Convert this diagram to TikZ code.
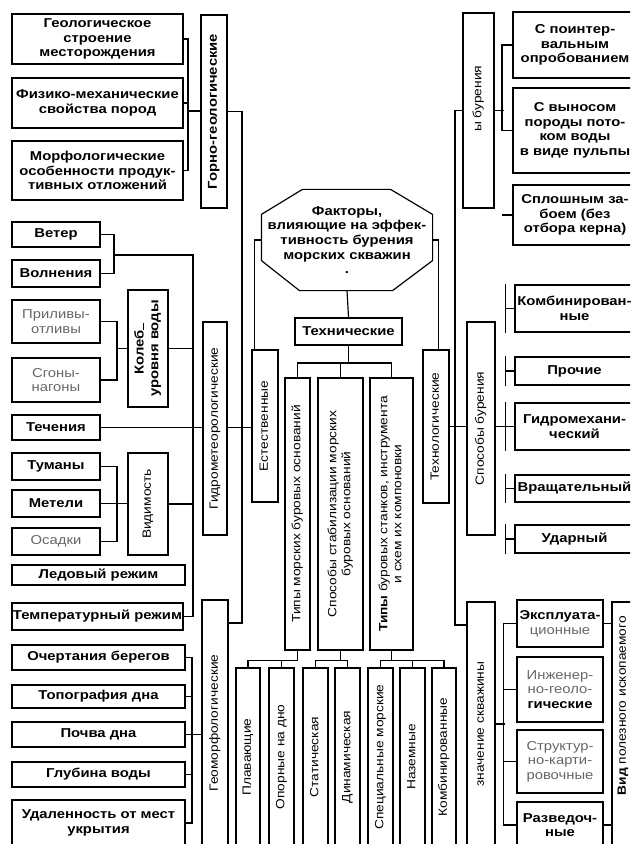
\documentclass[tikz,border=0pt]{standalone}
\usepackage{graphicx}
\usepackage{fontspec}
\setmainfont{Liberation Sans}[FakeStretch=1.15]

\newcommand\fs{\fontsize{11}{12.5}\selectfont}
\newcommand\fv{\fontsize{10.2}{12}\selectfont}
\newcommand\up[1]{\rotatebox{90}{\begin{tabular}{@{}c@{}}#1\end{tabular}}}
% box from (x1,y1) to (x2,y2), pixel units of the picture
\newcommand\blk[7]{\node[#2, minimum width={(#5-#3)*0.03cm}, minimum height={(#6-#4)*0.03cm}] (#1) at ({(#3+#5)/2},{(#4+#6)/2}) {#7};}

\begin{document}
\begin{tikzpicture}[x=0.03cm, y=-0.03cm, line width=1pt,
	core/.style={inner sep=0pt, align=center, font=\fs\bfseries},
	box/.style={core, draw},
	heavy/.style={box, line width=1.8pt},
	lite/.style={box, font=\fs, text=black!60},
	side/.style={box, font=\fv}]
	\useasboundingbox (0,0) rectangle (630,844);
	\clip (0,0) rectangle (630,844);

	% left: mining-geological
	\blk{geo}{heavy}{12}{14}{183}{64}{Геологическое\\строение\\месторождения}
	\blk{fiz}{heavy}{12}{78}{183}{128}{Физико-механические\\свойства пород}
	\blk{mor}{heavy}{12}{141}{183}{200}{Морфологические\\особенности продук-\\тивных отложений}
	\blk{gorn}{box}{201}{15}{227}{208}{\up{Горно-геологические}}

	% left: hydrometeorological
	\blk{vet}{box}{12}{222}{100}{247}{Ветер}
	\blk{vol}{box}{12}{260}{100}{287}{Волнения}
	\blk{pri}{lite}{12}{300}{100}{343}{Приливы-\\отливы}
	\blk{sgo}{lite}{12}{358}{100}{402}{Сгоны-\\нагоны}
	\blk{kol}{heavy}{128}{290}{168}{407}{\up{Колеб\rule{6pt}{0.4pt}\\уровня воды}}
	\blk{tec}{box}{12}{415}{100}{440}{Течения}
	\blk{tum}{box}{12}{453}{100}{480}{Туманы}
	\blk{met}{box}{12}{490}{100}{517}{Метели}
	\blk{osa}{lite}{12}{528}{100}{555}{Осадки}
	\blk{vdm}{side}{128}{453}{168}{555}{\up{Видимость}}
	\blk{led}{box}{12}{565}{185}{585}{Ледовый режим}
	\blk{tmp}{heavy}{12}{603}{183}{630}{Температурный режим}
	\blk{gid}{side}{203}{322}{227}{535}{\up{Гидрометеорологические}}

	% left: geomorphological
	\blk{och}{box}{12}{645}{185}{670}{Очертания берегов}
	\blk{tpg}{box}{12}{685}{185}{708}{Топография дна}
	\blk{poc}{box}{12}{722}{185}{747}{Почва дна}
	\blk{glu}{box}{12}{762}{185}{787}{Глубина воды}
	\blk{uda}{box}{12}{800}{185}{846}{Удаленность от мест\\укрытия}
	\blk{gmf}{side}{202}{600}{228}{846}{\up{Геоморфологические}}

	% centre
	\node[core, minimum width=5.1cm, minimum height=3cm] (fac) at (347,240)
		{Факторы,\\влияющие на эффек-\\тивность бурения\\морских скважин\\.};
	\draw ([xshift=1.23cm]fac.north west) -- ([xshift=-1.26cm]fac.north east)
		-- ([yshift=-0.75cm]fac.north east) -- ([yshift=0.9cm]fac.south east)
		-- ([xshift=-1.2cm]fac.south east) -- ([xshift=1.14cm]fac.south west)
		-- ([yshift=0.9cm]fac.south west) -- ([yshift=-0.75cm]fac.north west) -- cycle;
	\blk{tex}{heavy}{295}{318}{402}{345}{Технические}
	\blk{est}{side}{252}{350}{278}{502}{\up{Естественные}}
	\blk{tlg}{side}{423}{350}{449}{503}{\up{Технологические}}
	\blk{ta}{side}{285}{378}{310}{650}{\up{Типы морских буровых оснований}}
	\blk{tb}{side}{318}{378}{363}{650}{\up{Способы стабилизации морских\\буровых оснований}}
	\blk{tc}{side}{370}{378}{413}{650}{\up{\textbf{Типы} буровых станков, инструмента\\и схем их компоновки}}

	\blk{la}{side}{236}{668}{260}{846}{\up{Плавающие}}
	\blk{lb}{side}{269}{668}{294}{846}{\up{Опорные на дно}}
	\blk{lc}{side}{303}{668}{328}{846}{\up{Статическая}}
	\blk{ld}{side}{335}{668}{360}{846}{\up{Динамическая}}
	\blk{le}{side}{368}{668}{393}{846}{\up{Специальные морские}}
	\blk{lf}{side}{400}{668}{425}{846}{\up{Наземные}}
	\blk{lg}{side}{432}{668}{456}{846}{\up{Комбинированные}}

	% right: drilling
	\blk{bur}{side}{463}{13}{494}{208}{\up{\hspace{0.7cm}ы бурения}}
	\blk{sa}{heavy}{513}{12}{637}{78}{С поинтер-\\вальным\\опробованием}
	\blk{sb}{heavy}{513}{88}{637}{173}{С выносом\\породы пото-\\ком воды\\в виде пульпы}
	\blk{sc}{box}{513}{185}{637}{245}{Сплошным за-\\боем (без\\отбора керна)}
	\blk{spb}{side}{467}{322}{495}{535}{\up{Способы бурения}}
	\blk{km}{box}{515}{285}{634}{332}{Комбинирован-\\ные}
	\blk{pr}{box}{515}{357}{634}{385}{Прочие}
	\blk{gm}{box}{515}{403}{634}{450}{Гидромехани-\\ческий}
	\blk{vr}{box}{515}{475}{634}{502}{Вращательный}
	\blk{ud}{box}{515}{525}{634}{553}{Ударный}

	% right: wells
	\blk{naz}{side}{467}{602}{495}{846}{\up{значение скважины}}
	\blk{ea}{lite}{517}{600}{603}{647}{\textcolor{black}{\bfseries Эксплуата-}\\ционные}
	\blk{eb}{lite}{517}{657}{603}{722}{Инженер-\\но-геоло-\\\textcolor{black}{\bfseries гические}}
	\blk{ec}{lite}{517}{730}{603}{793}{Структур-\\но-карти-\\ровочные}
	\blk{ed}{heavy}{517}{802}{603}{848}{Разведоч-\\ные}
	\blk{vpi}{side}{612}{602}{634}{846}{\up{\hspace{1.1cm}\textbf{Вид} полезного ископаемого}}

	% connectors, left
	\coordinate (gg) at (188,111);
	\draw (geo.east) -| (gg) |- (mor.east);
	\draw (fiz.east) -- (fiz.east -| gg);
	\draw (gg) -- (gg -| gorn.west);
	\coordinate (lt) at (242,623);
	\draw (gorn.east) -| (lt) -- (lt -| gmf.east);
	\draw (tec.east) -- (tec.east -| gid.west);
	\draw (tec.east -| gid.east) -- (tec.east -| est.west);

	\coordinate (wv) at (114,255);
	\coordinate (hc) at (193,255);
	\draw (vet.east) -| (wv) |- (vol.east);
	\draw (wv) -- (hc) |- (tmp.east);
	\coordinate (lv) at (117,348.5);
	\draw (pri.east) -| (lv) |- (sgo.east);
	\draw (lv) -- (kol.west);
	\draw (kol.east) -- (kol.east -| hc);
	\coordinate (vs) at (117,504);
	\draw (tum.east) -| (vs) |- (osa.east);
	\draw (met.east) -- (met.east -| vdm.west);
	\draw (vdm.east) -- (vdm.east -| hc);

	\coordinate (gb) at (192,734.5);
	\draw (och.east) -| (gb) |- (uda.east);
	\draw (tpg.east) -- (tpg.east -| gb);
	\draw (glu.east) -- (glu.east -| gb);
	\draw (poc.east) -- (poc.east -| gmf.west);

	% connectors, centre
	\draw (fac.west) -| ([xshift=0.09cm]est.north west);
	\draw (fac.east) -| ([xshift=-0.33cm]tlg.north east);
	\draw (fac.south) -- (tex.north);
	\draw (tex.south) -- ++(0,17) coordinate (tj);
	\draw (ta.north) |- (tj) -| (tc.north);
	\draw (tb.north) -- (tb.north |- tj);
	\draw (ta.south) -- ++(0,10) coordinate (ja);
	\draw (la.north) |- (ja);
	\draw (lb.north) -- (lb.north |- ja);
	\draw (tb.south) -- ++(0,10) coordinate (jb);
	\draw (lc.north) |- (jb) -| (ld.north);
	\draw (tc.south) -- ++(0,10) coordinate (jc);
	\draw (le.north) |- (jc) -| (lg.north);
	\draw (lf.north) -- (lf.north |- jc);

	% connectors, right
	\coordinate (rt) at (455,625);
	\draw (bur.west) -| (rt) -- (rt -| naz.west);
	\draw (bur.east) -- ++(9,0);
	\draw (sa.west) -- ++(-10,0) |- (sb.west);
	\draw (sc.west) -- ++(-10,0);
	\draw (tlg.east) -- (tlg.east -| spb.west);
	\draw (gm.west -| spb.east) -- (gm.west);
	\foreach \b in {km,pr,gm,vr,ud} {
		\draw ([xshift=-0.27cm]\b.north west) -- ([xshift=-0.27cm]\b.south west);
		\draw (\b.west) -- ++(-9,0);
	}
	\draw (naz.east) -- ++(9,0);
	\draw (ea.west) -- ++(-13,0) |- (ed.west);
	\draw (eb.west) -- ++(-13,0);
	\draw (ec.west) -- ++(-13,0);
	\draw (ea.east) -- (ea.east -| vpi.west);
	\draw (ed.east) -- (ed.east -| vpi.west);
\end{tikzpicture}
\end{document}
